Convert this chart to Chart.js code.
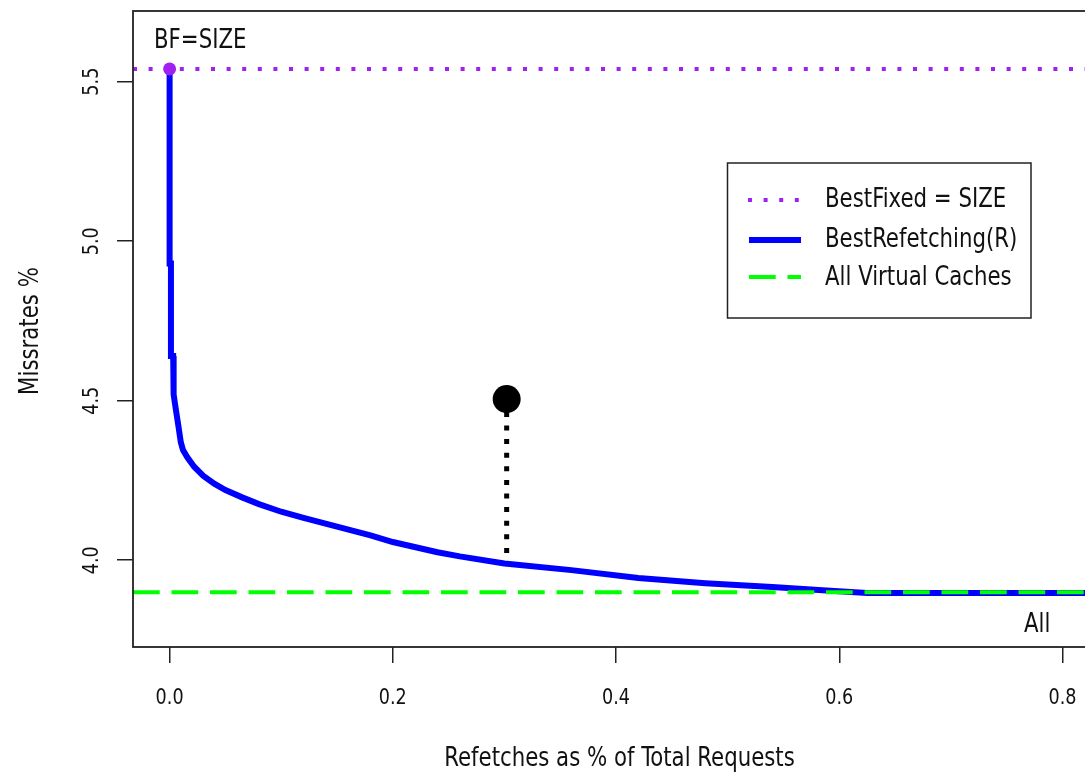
<!DOCTYPE html>
<html>
<head>
<meta charset="utf-8">
<script src="https://cdn.jsdelivr.net/npm/chart.js@4.4.0/dist/chart.umd.min.js"></script>
<style>
    html, body { margin: 0; padding: 0; background: #fff; overflow: hidden; }
</style>
</head>
<body>
<canvas id="grafico" width="1110" height="774"></canvas>
<script>
// curve BestRefetching(R)
const refetchX = [0, 0, 0.0012, 0.0012, 0.0032, 0.0036, 0.005, 0.008, 0.010, 0.012, 0.016, 0.022, 0.030, 0.040, 0.050, 0.065, 0.080, 0.100, 0.120, 0.150, 0.180, 0.200, 0.240, 0.260, 0.300, 0.360, 0.420, 0.480, 0.540, 0.585, 0.625, 0.840];
const missRate = [5.54, 4.93, 4.93, 4.64, 4.64, 4.52, 4.486, 4.418, 4.37, 4.345, 4.322, 4.293, 4.265, 4.24, 4.22, 4.197, 4.176, 4.152, 4.133, 4.105, 4.078, 4.057, 4.025, 4.012, 3.99, 3.969, 3.944, 3.928, 3.916, 3.906, 3.897, 3.897];

const bestFixed = 5.54;
const allVirtual = 3.90;
const markX = 0.302;
const markY = [4.023, 4.505];

const xTicks = [0, 0.2, 0.4, 0.6, 0.8];
const yTicks = [4.0, 4.5, 5.0, 5.5];
const xLimits = [-0.0328, 0.839];
const yLimits = [3.728, 5.7215];

const legendLabels = ['BestFixed = SIZE', 'BestRefetching(R)', 'All Virtual Caches'];
const xTitle = 'Refetches as % of Total Requests';
const yTitle = 'Missrates %';

const fonte = "'DejaVu Sans Condensed', 'DejaVu Sans', sans-serif";
const aperto = 0.91; // narrow text like the original

let pontosCurva = [];
for (let i = 0; i < refetchX.length; i++) {
    pontosCurva.push({ x: refetchX[i], y: missRate[i] });
}

function texto(ctx, str, x, y, size, align, rot) {
    ctx.save();
    ctx.translate(x, y);
    if (rot) ctx.rotate(rot);
    ctx.scale(aperto, 1);
    ctx.font = size + 'px ' + fonte;
    ctx.fillStyle = '#111';
    ctx.textAlign = align;
    ctx.textBaseline = 'alphabetic';
    ctx.fillText(str, 0, 0);
    ctx.restore();
}

// box, tick labels, titles, legend and notes
const extras = {
    id: 'extras',
    afterDatasetsDraw(chart) {
        const ctx = chart.ctx;
        const a = chart.chartArea;
        const sx = chart.scales.x;
        const sy = chart.scales.y;
        ctx.save();
        ctx.strokeStyle = '#222';
        ctx.lineWidth = 1.8;
        ctx.strokeRect(a.left, a.top, a.right - a.left, a.bottom - a.top);

        for (let i = 0; i < xTicks.length; i++) {
            texto(ctx, xTicks[i].toFixed(1), sx.getPixelForValue(xTicks[i]), 704, 21.5, 'center');
        }
        for (let i = 0; i < yTicks.length; i++) {
            texto(ctx, yTicks[i].toFixed(1), 98, sy.getPixelForValue(yTicks[i]), 21.5, 'center', -Math.PI / 2);
        }
        texto(ctx, xTitle, (a.left + a.right) / 2, 766, 26, 'center');
        texto(ctx, yTitle, 37.5, 331, 26, 'center', -Math.PI / 2);

        texto(ctx, 'BF=SIZE', 154, 47.5, 26, 'left');
        texto(ctx, 'All', 1024, 631.5, 26, 'left');

        // legend
        ctx.strokeStyle = '#222';
        ctx.lineWidth = 1.5;
        ctx.strokeRect(727.5, 163, 303.5, 155);
        const bases = [207.3, 246.7, 285];
        const filas = [200, 240, 277];
        for (let i = 0; i < legendLabels.length; i++) {
            texto(ctx, legendLabels[i], 825, bases[i], 26, 'left');
        }
        ctx.lineCap = 'butt';
        ctx.setLineDash([4, 11.6]);
        ctx.strokeStyle = '#a020f0';
        ctx.lineWidth = 4;
        ctx.beginPath(); ctx.moveTo(748, filas[0]); ctx.lineTo(802, filas[0]); ctx.stroke();
        ctx.setLineDash([]);
        ctx.strokeStyle = '#0000ff';
        ctx.lineWidth = 6;
        ctx.beginPath(); ctx.moveTo(749, filas[1]); ctx.lineTo(801, filas[1]); ctx.stroke();
        ctx.setLineDash([26.7, 11.8]);
        ctx.strokeStyle = '#00ff00';
        ctx.lineWidth = 4;
        ctx.beginPath(); ctx.moveTo(749, filas[2]); ctx.lineTo(801, filas[2]); ctx.stroke();
        ctx.restore();
    }
};

new Chart(document.getElementById('grafico'), {
    type: 'line',
    data: {
        datasets: [
            {
                label: 'dot',
                data: [{ x: markX, y: markY[1] }],
                showLine: false,
                pointRadius: 14,
                pointBackgroundColor: '#000',
                pointBorderWidth: 0,
                order: 0
            },
            {
                label: 'drop',
                data: [{ x: markX, y: markY[0] }, { x: markX, y: markY[1] }],
                borderColor: '#000',
                borderWidth: 5,
                borderDash: [5, 8.6],
                borderCapStyle: 'butt',
                pointRadius: 0,
                order: 1
            },
            {
                label: 'BestFixed = SIZE',
                data: [{ x: 0, y: bestFixed }],
                showLine: false,
                pointRadius: 6.5,
                pointBackgroundColor: '#a020f0',
                pointBorderWidth: 0,
                order: 2
            },
            {
                label: 'All Virtual Caches',
                data: [{ x: xLimits[0], y: allVirtual }, { x: xLimits[1], y: allVirtual }],
                borderColor: '#00ff00',
                borderWidth: 4,
                borderDash: [26.7, 11.8],
                borderCapStyle: 'butt',
                pointRadius: 0,
                order: 3
            },
            {
                label: 'BestRefetching(R)',
                data: pontosCurva,
                borderColor: '#0000ff',
                borderWidth: 6,
                tension: 0,
                pointRadius: 0,
                order: 4
            },
            {
                label: 'BestFixed line',
                data: [{ x: xLimits[0], y: bestFixed }, { x: xLimits[1], y: bestFixed }],
                borderColor: '#a020f0',
                borderWidth: 4,
                borderDash: [4, 11.6],
                borderCapStyle: 'butt',
                pointRadius: 0,
                order: 5
            }
        ]
    },
    options: {
        responsive: false,
        animation: false,
        layout: { autoPadding: false, padding: { top: 11, right: 4, left: 0, bottom: 0 } },
        plugins: {
            legend: { display: false },
            tooltip: { enabled: false }
        },
        scales: {
            x: {
                type: 'linear',
                min: xLimits[0],
                max: xLimits[1],
                afterBuildTicks: function (scale) {
                    scale.ticks = xTicks.map(function (v) { return { value: v }; });
                },
                afterFit: function (scale) {
                    scale.height = 127;
                },
                grid: { drawOnChartArea: false, tickLength: 16, color: '#222', lineWidth: 1.5 },
                border: { display: false },
                ticks: { display: false }
            },
            y: {
                type: 'linear',
                min: yLimits[0],
                max: yLimits[1],
                afterBuildTicks: function (scale) {
                    scale.ticks = yTicks.map(function (v) { return { value: v }; });
                },
                afterFit: function (scale) {
                    scale.width = 133;
                },
                grid: { drawOnChartArea: false, tickLength: 16, color: '#222', lineWidth: 1.5 },
                border: { display: false },
                ticks: { display: false }
            }
        }
    },
    plugins: [extras]
});
</script>
</body>
</html>
